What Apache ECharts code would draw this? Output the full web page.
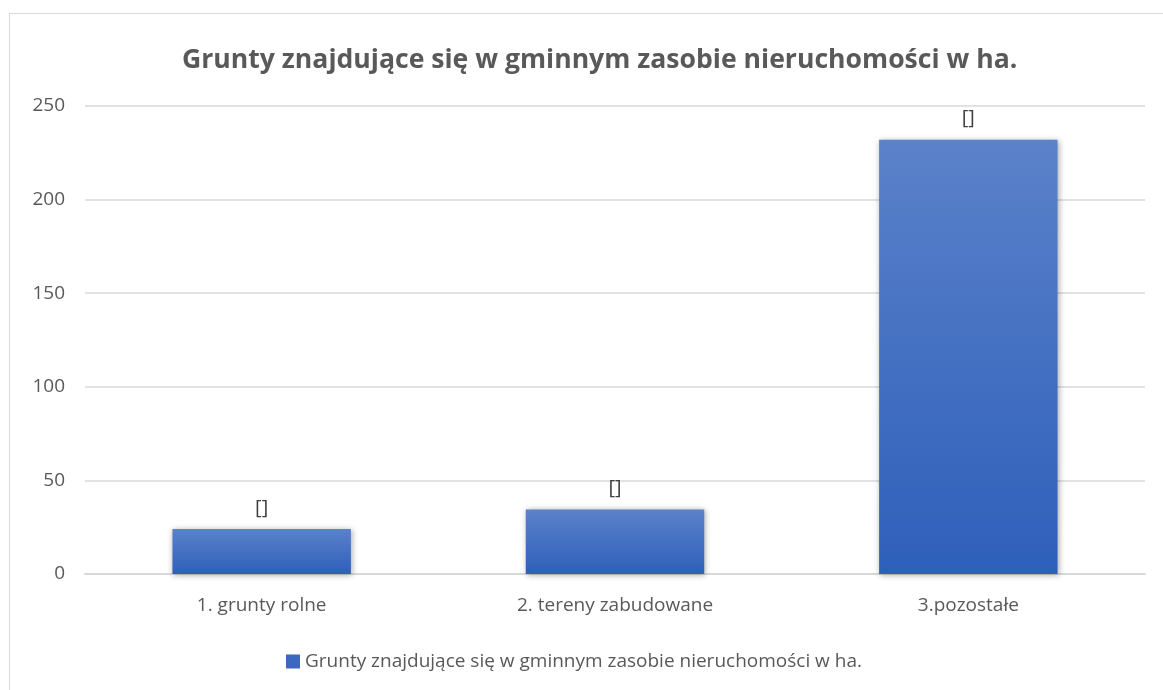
<!DOCTYPE html>
<html>
<head>
<meta charset="utf-8">
<script src="https://cdn.jsdelivr.net/npm/echarts@6/dist/echarts.min.js"></script>
<style>
  html, body { margin: 0; padding: 0; background: #fff; }
  #frame { position: absolute; left: 9px; top: 13px; width: 1160px; height: 690px; border: 1px solid #d9d9d9; box-sizing: border-box; }
  #chart { position: absolute; left: 0; top: 0; width: 1163px; height: 690px; }
</style>
</head>
<body>
<div id="frame"></div>
<div id="chart"></div>
<script>
const categories = ['1. grunty rolne', '2. tereny zabudowane', '3.pozostałe'];
const values = [24, 34.5, 232];
const seriesName = 'Grunty znajdujące się w gminnym zasobie nieruchomości w ha.';
const yTicks = { min: 0, max: 250, interval: 50 };

const chart = echarts.init(document.getElementById('chart'));
const fontFamily = 'Open Sans, Liberation Sans, sans-serif';
const barGradient = new echarts.graphic.LinearGradient(0, 0, 0, 1, [
  { offset: 0, color: '#5b82ca' },
  { offset: 1, color: '#2e5fba' }
]);

chart.setOption({
  animation: false,
  title: {
    text: seriesName,
    left: 177,
    top: 42,
    textStyle: { fontFamily, fontSize: 26.6, fontWeight: 'bold', color: '#595959' }
  },
  grid: { left: 85, right: 18, top: 106, bottom: 116 },
  legend: {
    bottom: 14,
    left: 281,
    icon: 'rect',
    itemWidth: 14,
    itemHeight: 14,
    itemGap: 4,
    textStyle: { fontFamily, fontSize: 19, color: '#595959' },
    data: [{ name: seriesName, itemStyle: { color: '#3d68c0' } }]
  },
  xAxis: {
    type: 'category',
    data: categories,
    axisLine: { lineStyle: { color: '#d9d9d9', width: 2 } },
    axisTick: { show: false },
    axisLabel: { fontFamily, fontSize: 19, color: '#595959', margin: 22 }
  },
  yAxis: {
    type: 'value',
    min: yTicks.min,
    max: yTicks.max,
    interval: yTicks.interval,
    axisLine: { show: false },
    axisTick: { show: false },
    splitLine: { lineStyle: { color: '#d9d9d9', width: 1.5 } },
    axisLabel: { fontFamily, fontSize: 19, color: '#595959', margin: 20 }
  },
  series: [{
    name: seriesName,
    type: 'bar',
    data: values,
    barWidth: '50.5%',
    itemStyle: {
      color: barGradient,
      shadowColor: 'rgba(0,0,0,0.35)',
      shadowBlur: 6,
      shadowOffsetX: 1,
      shadowOffsetY: 1
    },
    label: {
      show: true,
      position: 'top',
      distance: 11,
      formatter: '[]',
      fontFamily,
      fontSize: 20,
      color: '#404040'
    }
  }]
});
</script>
</body>
</html>
